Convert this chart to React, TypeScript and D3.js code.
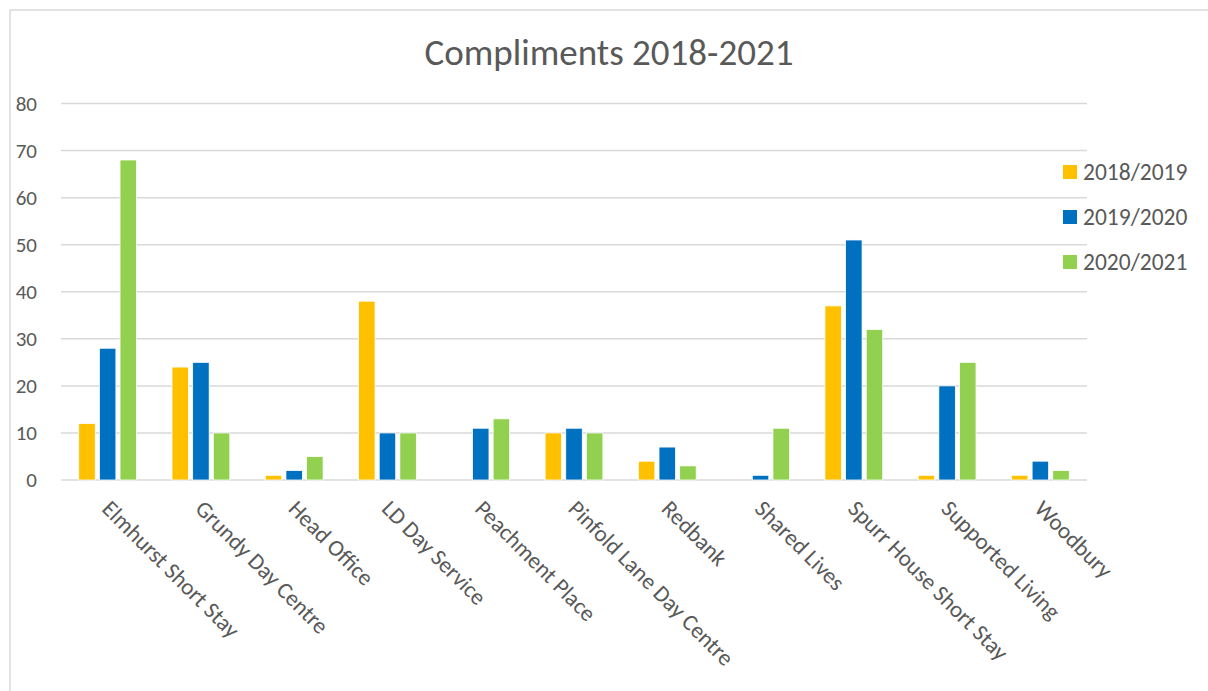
import React from "react";
import * as d3 from "d3";

const categories = [
  "Elmhurst Short Stay",
  "Grundy Day Centre",
  "Head Office",
  "LD Day Service",
  "Peachment Place",
  "Pinfold Lane Day Centre",
  "Redbank",
  "Shared Lives",
  "Spurr House Short Stay",
  "Supported Living",
  "Woodbury",
];
const seriesNames = ["2018/2019", "2019/2020", "2020/2021"];
const values2018 = [12, 24, 1, 38, 0, 10, 4, 0, 37, 1, 1];
const values2019 = [28, 25, 2, 10, 11, 11, 7, 1, 51, 20, 4];
const values2020 = [68, 10, 5, 10, 13, 10, 3, 11, 32, 25, 2];
const yTicks = [0, 10, 20, 30, 40, 50, 60, 70, 80];
const colors = ["#FFC000", "#0070C0", "#92D050"];
const title = "Compliments 2018-2021";

const W = 1208;
const H = 691;
const FONT = "Carlito, Lato, 'Open Sans', sans-serif";
const TEXT = "#595959";

export default function App() {
  const series = [values2018, values2019, values2020];
  const x0 = d3
    .scaleBand<string>()
    .domain(categories)
    .range([61, 1087])
    .paddingInner(0.38)
    .paddingOuter(0.19);
  const x1 = d3
    .scaleBand<string>()
    .domain(seriesNames)
    .range([0, x0.bandwidth()])
    .paddingInner(0.2);
  const y = d3.scaleLinear().domain([0, 80]).range([480, 103.5]);
  const step = x0.step();

  return (
    <svg
      width={W}
      height={H}
      style={{ position: "absolute", left: 0, top: 0, background: "#fff" }}
      fontFamily={FONT}
    >
      <rect x={0} y={0} width={W} height={H} fill="#fff" />
      <rect
        x={10}
        y={10}
        width={W + 20}
        height={H + 20}
        fill="none"
        stroke="#D9D9D9"
        strokeWidth={1.5}
      />
      <text
        x={609}
        y={65}
        textAnchor="middle"
        fontSize={37}
        fill={TEXT}
      >
        {title}
      </text>
      {yTicks.map((t) => (
        <g key={t}>
          <line
            x1={61}
            x2={1087}
            y1={y(t)}
            y2={y(t)}
            stroke="#D9D9D9"
            strokeWidth={1.5}
          />
          <text
            x={37}
            y={y(t)}
            dy="0.35em"
            textAnchor="end"
            fontSize={21}
            fill={TEXT}
          >
            {t}
          </text>
        </g>
      ))}
      {categories.map((c, i) => (
        <g key={c}>
          {series.map((vals, s) => (
            <rect
              key={s}
              x={(x0(c) ?? 0) + (x1(seriesNames[s]) ?? 0)}
              y={y(vals[i])}
              width={x1.bandwidth()}
              height={y(0) - y(vals[i])}
              fill={colors[s]}
              stroke="#fff"
              strokeWidth={0.8}
            />
          ))}
          <text
            transform={`translate(${(x0(c) ?? 0) - step * 0.19 + step / 2 - 7},510) rotate(45)`}
            fontSize={23}
            fill={TEXT}
          >
            {c}
          </text>
        </g>
      ))}
      {seriesNames.map((n, s) => (
        <g key={n} transform={`translate(1063,${172 + s * 45})`}>
          <rect x={0} y={-7} width={14} height={14} fill={colors[s]} />
          <text x={20} y={0} dy="0.35em" fontSize={23.5} fill={TEXT}>
            {n}
          </text>
        </g>
      ))}
    </svg>
  );
}
